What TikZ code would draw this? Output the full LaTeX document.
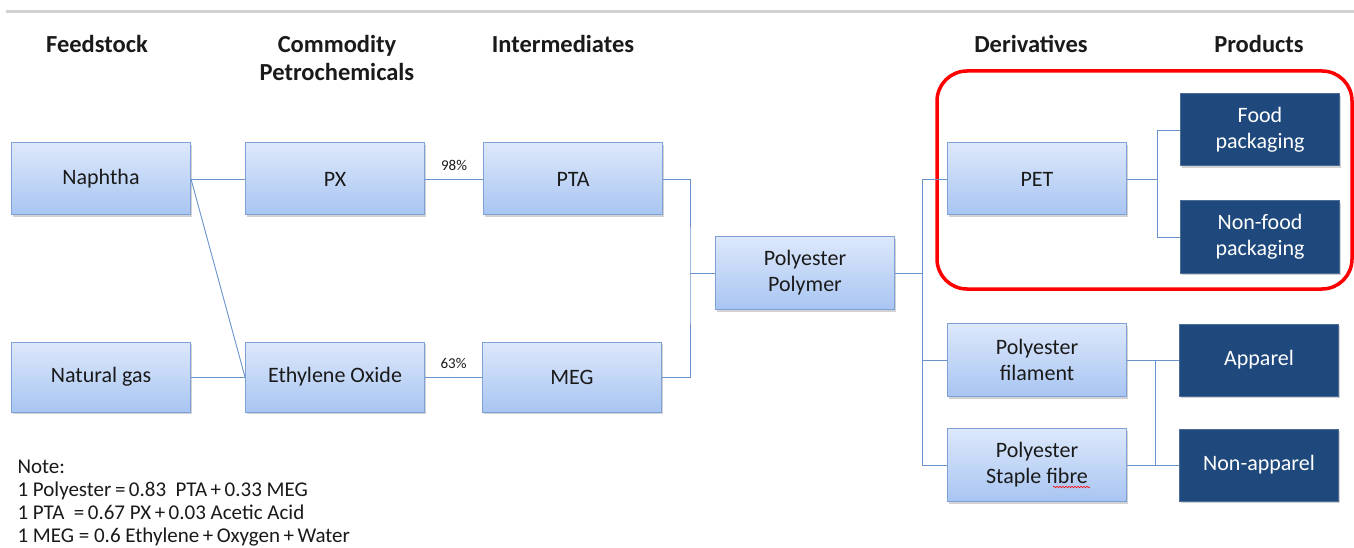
\documentclass[tikz,border=0pt]{standalone}
\usepackage{fontspec}
\setmainfont{Carlito}
\usetikzlibrary{shadows,decorations.pathmorphing}
\definecolor{boxtop}{HTML}{DDE8FB}
\definecolor{boxbot}{HTML}{A8C5F2}
\definecolor{boxline}{HTML}{7EA2D8}
\definecolor{conn}{HTML}{6A93CC}
\definecolor{darkbox}{HTML}{1F497D}
\definecolor{txt}{HTML}{1A1A1A}
\begin{document}
\begin{tikzpicture}[x=1pt,y=-1pt,
  lbox/.style={draw=boxline,line width=1pt,top color=boxtop,bottom color=boxbot,
    minimum width=179pt,minimum height=72pt,align=center,font=\fontsize{22}{26}\selectfont,
    text=txt,inner sep=2pt,drop shadow={shadow xshift=1.5pt,shadow yshift=-2pt,opacity=0.35}},
  dbox/.style={draw=darkbox!80!white,fill=darkbox,text=white,line width=1pt,
    minimum width=159pt,minimum height=72pt,align=center,font=\fontsize{22}{26}\selectfont,
    inner sep=2pt,drop shadow={shadow xshift=1.5pt,shadow yshift=-2pt,opacity=0.35}},
  hdr/.style={font=\bfseries\fontsize{24.5}{28}\selectfont,align=center,text=txt},
  cn/.style={draw=conn,line width=0.9pt},
  pct/.style={font=\fontsize{15}{17}\selectfont,text=txt},
  note/.style={font=\fontsize{21}{23.3}\selectfont,align=left,anchor=north west,text=txt}]
\useasboundingbox (0,0) rectangle (1354,548);
\fill[white] (0,0) rectangle (1354,548);
\draw[black!18,line width=3pt] (6,12) -- (1354,12);

% headers
\node[hdr] (h1) at (97,44) {Feedstock};
\node[hdr] (h2) at (337,58) {Commodity\\Petrochemicals};
\node[hdr] (h3) at (563,44) {Intermediates};
\node[hdr] (h4) at (1031,44) {Derivatives};
\node[hdr] (h5) at (1259,44) {Products};

% red highlight
\draw[red,line width=3.5pt,rounded corners=30pt] (937,71) rectangle (1352,289);

% boxes
\node[lbox] (nap) at (101,179) {Naphtha};
\node[lbox] (px) at (335,179) {PX};
\node[lbox] (pta) at (573,179) {PTA};
\node[lbox,minimum height=70pt] (ng) at (101,377) {Natural gas};
\node[lbox,minimum height=70pt] (eo) at (335,377) {Ethylene Oxide};
\node[lbox,minimum height=70pt] (meg) at (572,377) {MEG};
\node[lbox,minimum height=73pt] (poly) at (805,273) {Polyester\\Polymer};
\node[lbox] (pet) at (1037,179) {PET};
\node[lbox,minimum height=73pt] (fil) at (1037,360) {Polyester\\filament};
\node[lbox,minimum height=73pt] (stp) at (1037,465) {Polyester\\Staple fibre};
\node[dbox] (food) at (1260,130) {Food\\packaging};
\node[dbox] (nfood) at (1260,237) {Non-food\\packaging};
\node[dbox] (app) at (1259,360) {Apparel};
\node[dbox] (napp) at (1259,465) {Non-apparel};

% spell-check squiggle under "fibre"
\draw[red,line width=0.6pt,decorate,decoration={snake,amplitude=0.8pt,segment length=3pt}] (1053,487) -- (1090,487);

% connectors
\draw[cn] (nap.east) -- (px.west);
\draw[cn] (nap.east) -- (eo.west);
\draw[cn] (ng.east) -- (eo.west);
\draw[cn] (px.east) -- node[pct,above=5pt] (p98) {98\%} (pta.west);
\draw[cn] (eo.east) -- node[pct,above=5pt] (p63) {63\%} (meg.west);

\coordinate (j1) at (690,273);
\draw[cn] (pta.east) -| (j1) |- (meg.east);
\draw[cn] (j1) -- (poly.west);

\coordinate (j2) at (922,273);
\draw[cn] (poly.east) -- (j2);
\draw[cn] (pet.west) -| (j2) |- (stp.west);
\draw[cn] (j2 |- fil.west) -- (fil.west);

\coordinate (j3) at (1157,179);
\draw[cn] (pet.east) -- (j3);
\draw[cn] (food.west) -| (j3) |- (nfood.west);

\coordinate (j4) at (1155,360);
\draw[cn] (fil.east) -- (app.west);
\draw[cn] (stp.east) -- (napp.west);
\draw[cn] (j4) -- (j4 |- napp.west);

% note
\node[note] (nt) at (14,456) {Note:\\1 Polyester\,=\,0.83\ \ PTA\,+\,0.33 MEG\\1 PTA\ \ =\,0.67 PX\,+\,0.03 Acetic Acid\\1 MEG = 0.6 Ethylene\,+\,Oxygen\,+\,Water};
\end{tikzpicture}
\end{document}
